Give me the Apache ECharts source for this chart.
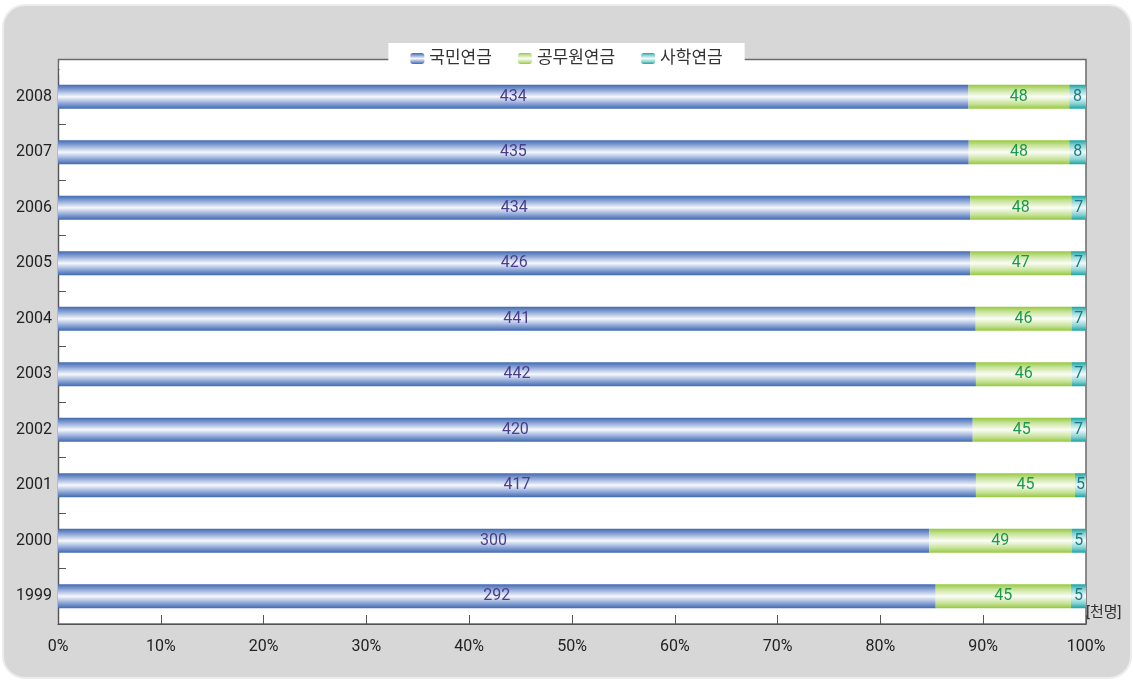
<!DOCTYPE html>
<html><head><meta charset="utf-8">
<script src="https://cdn.jsdelivr.net/npm/echarts@6/dist/echarts.min.js"></script>
<style>html,body{margin:0;padding:0;background:#fff}#c{width:1133px;height:681px}</style>
</head><body><div id="c"></div>
<script>
const years = ['1999','2000','2001','2002','2003','2004','2005','2006','2007','2008'];
const nationalPension = [292,300,417,420,442,441,426,434,435,434];
const civilServantPension = [45,49,45,45,46,46,47,48,48,48];
const teacherPension = [5,5,5,7,7,7,7,7,8,8];
const seriesNames = ['국민연금','공무원연금','사학연금'];
const xTicks = ['0%','10%','20%','30%','40%','50%','60%','70%','80%','90%','100%'];

const raw = [nationalPension, civilServantPension, teacherPension];
const totals = years.map((_, i) => raw.reduce((s, a) => s + a[i], 0));
const pct = raw.map(a => a.map((v, i) => v / totals[i] * 100));

function grad(edge, mid, mid2) {
  return new echarts.graphic.LinearGradient(0, 0, 0, 1, [
    {offset: 0, color: edge}, {offset: 0.2, color: mid2},
    {offset: 0.5, color: mid}, {offset: 0.8, color: mid2}, {offset: 1, color: edge}
  ]);
}
const fills = [
  grad('#4169b0', '#f6f8fd', '#86a0d3'),
  grad('#95c83f', '#fbfdf6', '#c6e296'),
  grad('#18a3a3', '#f2fbfb', '#84d1d1')
];
const labelColors = ['#4a3d8c', '#1b9a4b', '#1a7c86'];
const font = 'Roboto, "Noto Sans CJK KR", sans-serif';

const chart = echarts.init(document.getElementById('c'));
chart.setOption({
  animation: false,
  textStyle: {fontFamily: font},
  graphic: [
    {type: 'rect', z: -10, silent: true, shape: {x: 3, y: 5, width: 1128, height: 673, r: 22},
     style: {fill: '#d7d7d7', stroke: '#ececec', lineWidth: 2}},
    {type: 'rect', z: -5, silent: true, shape: {x: 58.5, y: 59.5, width: 1027.5, height: 564.5},
     style: {fill: '#fff', stroke: '#6a6a6a', lineWidth: 1.5}},
    {type: 'rect', z: 1000, silent: true, shape: {x: 59.5, y: 63, width: 14, height: 12},
     style: {fill: '#fff'}},
    {type: 'text', left: 1086, top: 606, z: 10,
     style: {text: '[천명]', fontSize: 15, fill: '#333', fontFamily: font}}
  ],
  legend: {
    top: 43, left: 'center',
    backgroundColor: '#fff',
    padding: [7, 22, 8, 22],
    itemWidth: 14, itemHeight: 11, itemGap: 26,
    textStyle: {fontSize: 17, color: '#333', fontFamily: font, lineHeight: 15},
    data: seriesNames
  },
  grid: {left: 58, right: 47, top: 69, bottom: 57},
  xAxis: {
    type: 'value', min: 0, max: 100, interval: 10,
    axisLine: {show: true, lineStyle: {color: '#555'}},
    axisTick: {show: true, inside: true, length: 9, lineStyle: {color: '#555'}},
    splitLine: {show: false},
    axisLabel: {margin: 15, fontSize: 16, color: '#222',
      formatter: (v) => xTicks[Math.round(v / 10)]}
  },
  yAxis: {
    type: 'category', data: years,
    axisLine: {show: true, lineStyle: {color: '#555'}},
    axisTick: {show: true, inside: true, length: 8, lineStyle: {color: '#555'}},
    axisLabel: {fontSize: 16, color: '#222', margin: 6}
  },
  series: seriesNames.map((name, k) => ({
    name, type: 'bar', stack: 'total', barWidth: 24,
    data: pct[k],
    itemStyle: {color: fills[k]},
    label: {show: true, position: 'inside', fontSize: 16, color: labelColors[k],
      fontFamily: font, formatter: (p) => raw[k][p.dataIndex]}
  }))
});
</script></body></html>
